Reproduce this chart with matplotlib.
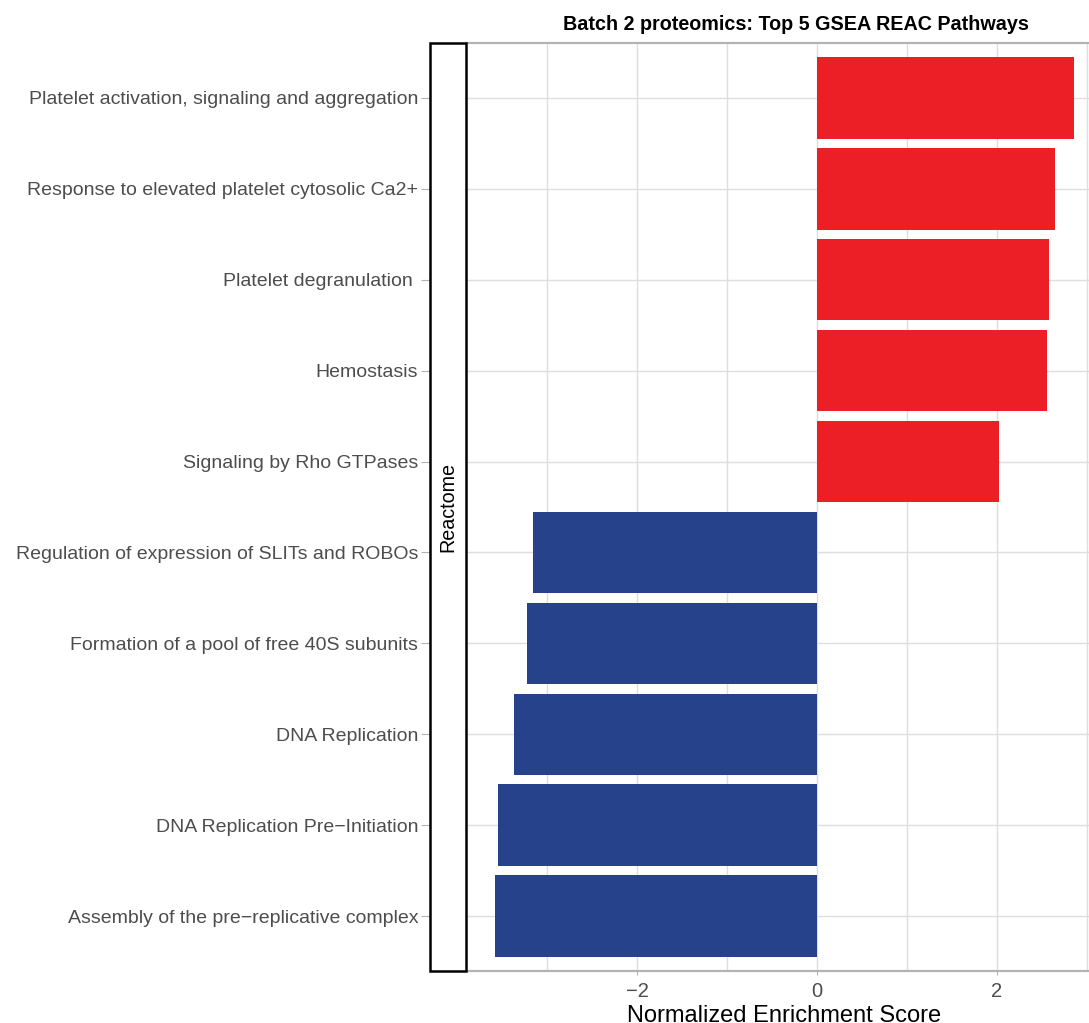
import numpy as np
import matplotlib
matplotlib.use("Agg")
import matplotlib.pyplot as plt
from matplotlib.patches import Rectangle

plt.rcParams['font.family'] = ['Liberation Sans', 'DejaVu Sans']

# pathways, bottom to top
pathways = [
    "Assembly of the pre\u2212replicative complex",
    "DNA Replication Pre\u2212Initiation",
    "DNA Replication",
    "Formation of a pool of free 40S subunits",
    "Regulation of expression of SLITs and ROBOs",
    "Signaling by Rho GTPases",
    "Hemostasis",
    "Platelet degranulation ",
    "Response to elevated platelet cytosolic Ca2+",
    "Platelet activation, signaling and aggregation",
]
nes = [-3.58, -3.54, -3.37, -3.22, -3.15, 2.02, 2.56, 2.58, 2.65, 2.86]

up_col = "#ED1F26"
down_col = "#26428B"
grid_col = "#DEDEDE"
border_col = "#B3B3B3"

W, H = 1089, 1023
fig = plt.figure(figsize=(W / 100, H / 100), dpi=100)

# panel in pixel coords (right edge runs past the canvas)
x0, x1, y_top, y_bot = 466, 1103, 43, 971
ax = fig.add_axes([x0 / W, 1 - y_bot / H, (x1 - x0) / W, (y_bot - y_top) / H])

ypos = np.arange(len(pathways))
colors = [up_col if v > 0 else down_col for v in nes]
ax.barh(ypos, nes, height=0.9, color=colors, zorder=2)

ax.set_xlim(-3.9, 3.18)
ax.set_ylim(-0.6, len(pathways) - 0.4)

ax.set_xticks([-2, 0, 2])
ax.set_xticklabels(["\u22122", "0", "2"])
ax.set_xticks([-3, -1, 1, 3], minor=True)
ax.set_yticks(ypos)
ax.set_yticklabels(pathways)

ax.grid(True, which='both', color=grid_col, linewidth=1.0, zorder=0)
ax.set_axisbelow(True)

# long y ticks; the strip box covers all but the outer stub
ax.tick_params(axis='y', length=32.5, width=0.8, color=border_col, pad=2,
               labelsize=14.0, labelcolor="#4D4D4D")
ax.tick_params(axis='x', which='major', length=3, width=0.8, color=border_col,
               pad=5, labelsize=14.5, labelcolor="#4D4D4D")
ax.tick_params(axis='x', which='minor', length=0)

for side in ['left', 'right']:
    ax.spines[side].set_visible(False)
for side in ['top', 'bottom']:
    ax.spines[side].set_color(border_col)
    ax.spines[side].set_linewidth(1.6)

ax.set_xlabel("Normalized Enrichment Score", fontsize=17, labelpad=3)

# facet strip on the left of the panel
strip = Rectangle((430 / W, 1 - y_bot / H), 36 / W, (y_bot - y_top) / H,
                  transform=fig.transFigure, facecolor='white',
                  edgecolor='black', linewidth=1.8, zorder=3)
fig.patches.append(strip)
fig.text(448 / W, 1 - (y_top + y_bot) / 2 / H, "Reactome", rotation=90,
         ha='center', va='center', fontsize=14.2, color='black')

fig.text(796 / W, 1 - 24 / H, "Batch 2 proteomics: Top 5 GSEA REAC Pathways",
         ha='center', va='center', fontsize=14.2, fontweight='bold')

fig.savefig("out.png", dpi=100)
